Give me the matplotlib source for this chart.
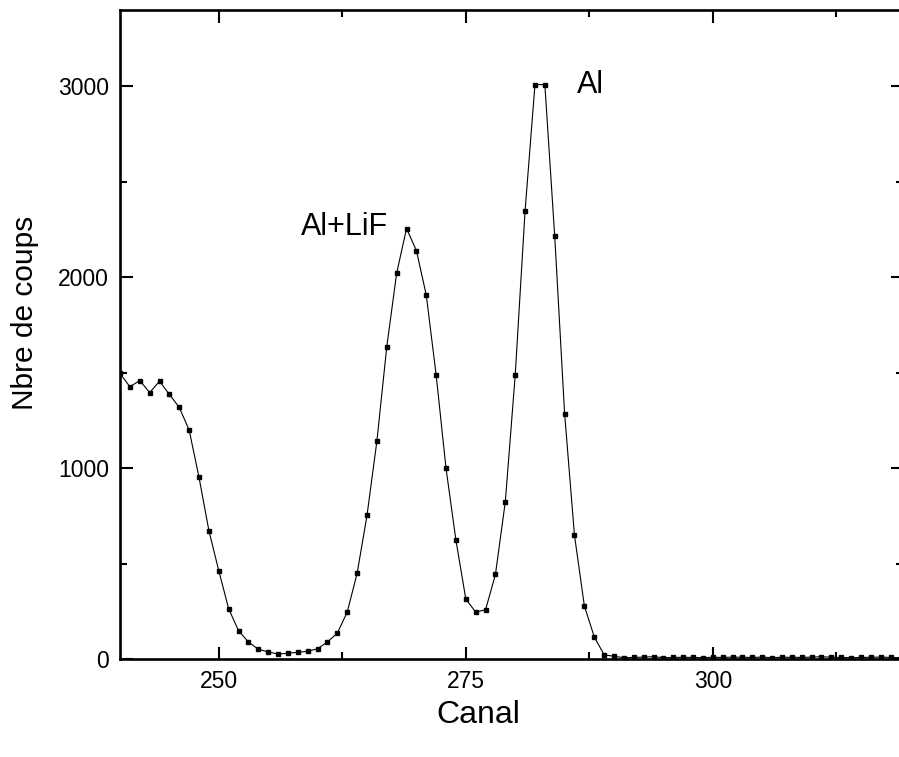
import numpy as np
import matplotlib
matplotlib.use("Agg")
import matplotlib.pyplot as plt
from matplotlib.ticker import MultipleLocator

plt.rcParams['font.family'] = ['Liberation Sans', 'DejaVu Sans']

# spectrum: channel number -> counts
canal = np.arange(240, 321)
coups = [1496, 1426, 1459, 1396, 1455, 1386, 1318, 1199, 951, 672,
         462, 263, 148, 89, 51, 37, 26, 30, 35, 40,
         54, 89, 136, 246, 449, 752, 1141, 1635, 2021, 2255,
         2140, 1906, 1487, 998, 623, 314, 246, 258, 443, 825,
         1487, 2349, 3009, 3009, 2215, 1286, 648, 278, 116, 22,
         14, 7, 8, 10, 12, 7, 8, 9, 8, 7,
         9, 8, 10, 9, 8, 10, 7, 9, 9, 8,
         10, 12, 9, 8, 7, 8, 9, 10, 8, 7, 8]

labels = [("Al+LiF", 258.3, 2220), ("Al", 286.2, 2965)]

fig = plt.figure(figsize=(8.99, 7.57), dpi=100)
ax = fig.add_axes([120 / 899, 98 / 757, 783 / 899, 649 / 757])

ax.plot(canal, coups, color='black', lw=0.8, marker='s', ms=3.2,
        mec='black', mfc='black', clip_on=True)

ax.set_xlim(240, 319.25)
ax.set_ylim(0, 3400)
ax.xaxis.set_major_locator(MultipleLocator(25))
ax.xaxis.set_minor_locator(MultipleLocator(12.5))
ax.yaxis.set_major_locator(MultipleLocator(1000))
ax.yaxis.set_minor_locator(MultipleLocator(500))
ax.tick_params(which='both', direction='in', top=True, right=True,
               width=1.5, labelsize=16.5)
ax.tick_params(which='major', length=9, pad=8)
ax.tick_params(which='minor', length=5)
for s in ax.spines.values():
    s.set_linewidth(1.9)

for txt, x, y in labels:
    ax.text(x, y, txt, fontsize=22, ha='left', va='baseline')

fig.text(478 / 899, (757 - 723) / 757, "Canal", fontsize=23,
         ha='center', va='baseline')
fig.text(25 / 899, (757 - 313) / 757, "Nbre de coups", fontsize=21.5,
         ha='center', va='center', rotation=90)

fig.savefig("out.png", dpi=100)
